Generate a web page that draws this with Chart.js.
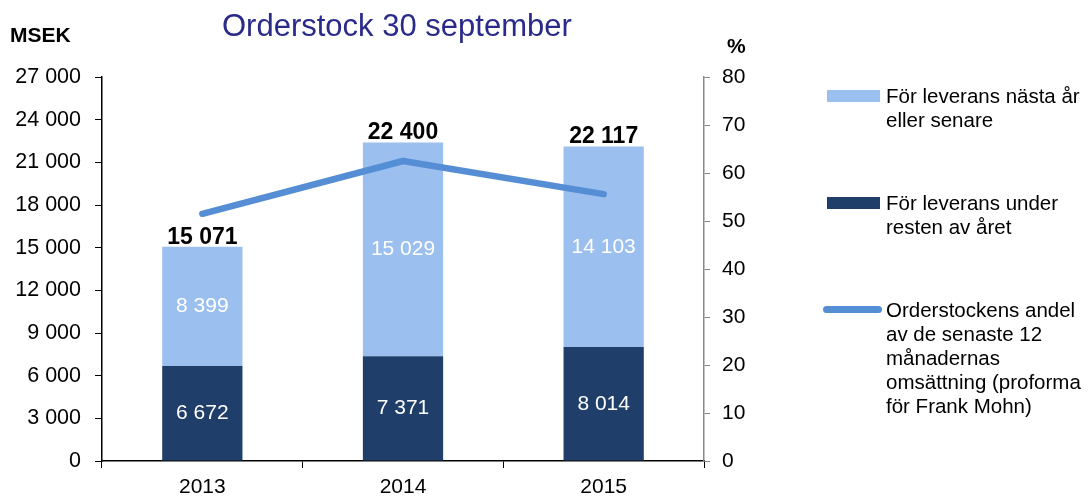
<!DOCTYPE html>
<html>
<head>
<meta charset="utf-8">
<script src="https://cdn.jsdelivr.net/npm/chart.js@4/dist/chart.umd.min.js"></script>
<style>
  html, body { margin: 0; padding: 0; background: #fff; }
  body { width: 1090px; height: 497px; position: relative; overflow: hidden;
         font-family: "Liberation Sans", Arial, sans-serif; }
  #wrap { position: absolute; left: 0; top: 0; width: 1090px; height: 497px; }
  .title { position: absolute; left: 222px; top: 8px; font-size: 31px; color: #2a2a8a; white-space: nowrap; }
  .unit { position: absolute; font-weight: bold; font-size: 21px; color: #000; }
  .legend { position: absolute; left: 823px; font-size: 20.5px; line-height: 24px; color: #000; }
  .legend .sw { position: absolute; left: 4px; width: 53px; height: 12px; }
  .legend .txt { position: absolute; left: 63px; white-space: nowrap; }
</style>
</head>
<body>
<div id="wrap"><canvas id="chart" width="1090" height="497"></canvas></div>
<div class="title">Orderstock 30 september</div>
<div class="unit" style="left:10px; top:23px;">MSEK</div>
<div class="unit" style="left:727px; top:34px;">%</div>
<div class="legend" id="legend"></div>

<script>
// kategorier och serier
const years = ['2013', '2014', '2015'];
const restOfYear = [6672, 7371, 8014];        // för leverans under resten av året
const nextYear = [8399, 15029, 14103];        // för leverans nästa år eller senare
const shareOfSales = [51.5, 62.5, 55.6];      // orderstockens andel av 12 mån omsättning (%)

const leftMax = 27000, leftStep = 3000;
const rightMax = 80, rightStep = 10;

const darkBlue = '#1f3e69';
const lightBlue = '#9bbfee';
const lineBlue = '#558ed5';
const fontFam = '"Liberation Sans", Arial, sans-serif';

// tal med mellanslag som tusentalsavgränsare
function fmt(n) {
    return n.toString().replace(/\B(?=(\d{3})+(?!\d))/g, ' ');
}

// etiketter i staplarna och summa ovanför
const labelPlugin = {
    id: 'barLabels',
    afterDatasetsDraw(chart) {
        const ctx = chart.ctx;
        ctx.save();
        ctx.textAlign = 'center';
        ctx.textBaseline = 'middle';
        ctx.fillStyle = '#fff';
        ctx.font = '21px ' + fontFam;
        [0, 1].forEach(function(di) {
            const meta = chart.getDatasetMeta(di);
            meta.data.forEach(function(el, i) {
                const v = chart.data.datasets[di].data[i];
                ctx.fillText(fmt(v), el.x, (el.y + el.base) / 2);
            });
        });
        // summa
        const top = chart.getDatasetMeta(1);
        ctx.fillStyle = '#000';
        ctx.font = 'bold 23px ' + fontFam;
        ctx.textBaseline = 'alphabetic';
        top.data.forEach(function(el, i) {
            const total = restOfYear[i] + nextYear[i];
            ctx.fillText(fmt(total), el.x, el.y - 3);
        });
        ctx.restore();
    }
};

const ctx = document.getElementById('chart').getContext('2d');
new Chart(ctx, {
    type: 'bar',
    data: {
        labels: years,
        datasets: [
            {
                label: 'För leverans under resten av året',
                data: restOfYear,
                backgroundColor: darkBlue,
                stack: 's',
                yAxisID: 'y',
                barPercentage: 0.4,
                categoryPercentage: 1,
                order: 2
            },
            {
                label: 'För leverans nästa år eller senare',
                data: nextYear,
                backgroundColor: lightBlue,
                stack: 's',
                yAxisID: 'y',
                barPercentage: 0.4,
                categoryPercentage: 1,
                order: 2
            },
            {
                type: 'line',
                label: 'Orderstockens andel av de senaste 12 månadernas omsättning (proforma för Frank Mohn)',
                data: shareOfSales,
                borderColor: lineBlue,
                backgroundColor: lineBlue,
                borderWidth: 6.5,
                borderCapStyle: 'round',
                borderJoinStyle: 'round',
                pointRadius: 0,
                tension: 0,
                yAxisID: 'y1',
                order: 1
            }
        ]
    },
    options: {
        responsive: false,
        animation: false,
        events: [],
        layout: { padding: { top: 77, left: 0, right: 0, bottom: 0 } },
        plugins: {
            legend: { display: false },
            title: { display: false },
            tooltip: { enabled: false }
        },
        scales: {
            x: {
                stacked: true,
                grid: { display: true, drawOnChartArea: false, drawTicks: true, tickLength: 7, color: '#000', offset: true },
                border: { color: '#000', width: 1.5 },
                ticks: { color: '#000', padding: 7, font: { size: 21, family: fontFam } },
                afterFit: function(s) { s.height = 36; }
            },
            y: {
                stacked: true,
                position: 'left',
                min: 0,
                max: leftMax,
                grid: { drawOnChartArea: false, drawTicks: true, tickLength: 7, color: '#000' },
                border: { color: '#000', width: 1.5 },
                ticks: {
                    stepSize: leftStep,
                    color: '#000',
                    padding: 14,
                    font: { size: 21.5, family: fontFam },
                    callback: function(v) { return fmt(v); }
                },
                afterFit: function(s) { s.width = 102; }
            },
            y1: {
                position: 'right',
                min: 0,
                max: rightMax,
                grid: { drawOnChartArea: false, drawTicks: true, tickLength: 6, color: '#888' },
                border: { color: '#888', width: 1.5 },
                ticks: {
                    stepSize: rightStep,
                    color: '#000',
                    padding: 12,
                    font: { size: 21, family: fontFam }
                },
                afterFit: function(s) { s.width = 386; }
            }
        }
    },
    plugins: [labelPlugin]
});

// förklaring till höger
const legendItems = [
    { lines: ['För leverans nästa år', 'eller senare'], color: lightBlue, top: 84, kind: 'bar' },
    { lines: ['För leverans under', 'resten av året'], color: darkBlue, top: 191, kind: 'bar' },
    { lines: ['Orderstockens andel', 'av de senaste 12', 'månadernas', 'omsättning (proforma', 'för Frank Mohn)'], color: lineBlue, top: 298, kind: 'line' }
];
const legend = document.getElementById('legend');
legendItems.forEach(function(item) {
    const sw = document.createElement('div');
    sw.className = 'sw';
    sw.style.top = (item.top + 6) + 'px';
    sw.style.background = item.color;
    if (item.kind === 'line') {
        sw.style.height = '7px';
        sw.style.top = (item.top + 8) + 'px';
        sw.style.left = '0px';
        sw.style.width = '59px';
        sw.style.borderRadius = '4px';
    }
    legend.appendChild(sw);
    const txt = document.createElement('div');
    txt.className = 'txt';
    txt.style.top = item.top + 'px';
    txt.innerHTML = item.lines.join('<br>');
    legend.appendChild(txt);
});
</script>
</body>
</html>
